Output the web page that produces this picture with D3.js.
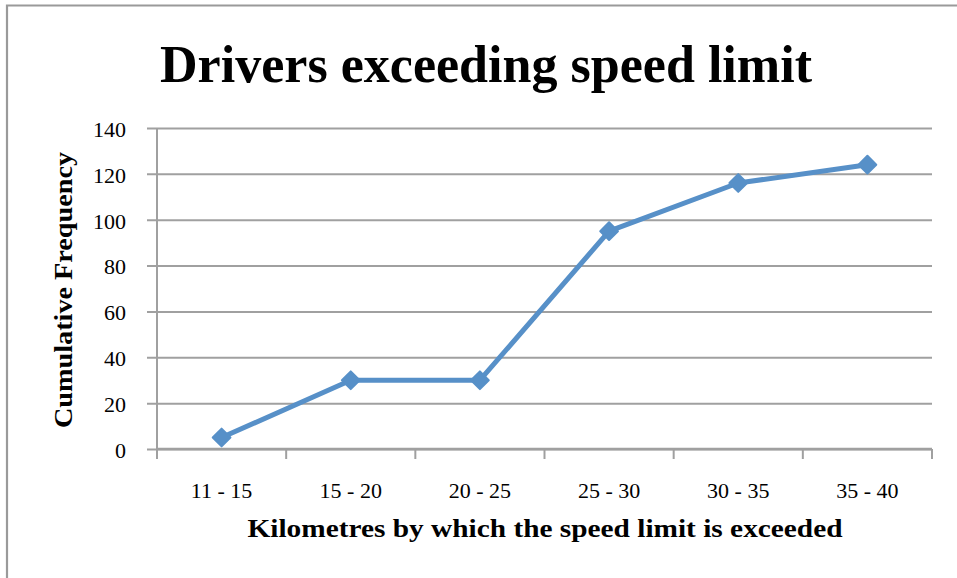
<!DOCTYPE html>
<html>
<head>
<meta charset="utf-8">
<script src="https://cdn.jsdelivr.net/npm/d3@7"></script>
<style>
  html, body { margin: 0; padding: 0; background: #fff; }
  svg { display: block; }
</style>
</head>
<body>
<div id="chart"></div>
<script>
// Cumulative frequency of drivers by how far they exceeded the limit
const categories = ["11 - 15", "15 - 20", "20 - 25", "25 - 30", "30 - 35", "35 - 40"];
const cumulativeFrequency = [5, 30, 30, 95, 116, 124];
const yTicks = [0, 20, 40, 60, 80, 100, 120, 140];

const W = 957, H = 578;
const plot = { left: 157, right: 932, top: 128, bottom: 449 };
const lineColor = "#5790c8";
const gridColor = "#a0a0a0";
const serif = "'Liberation Serif', 'DejaVu Serif', serif";

const svg = d3.select("#chart").append("svg")
  .attr("width", W).attr("height", H);

// outer frame (top and left edges)
svg.append("path")
  .attr("d", `M7,${H} L7,5.5 L${W},5.5`)
  .attr("fill", "none").attr("stroke", "#9a9a9a").attr("stroke-width", 2.2);

const x = d3.scaleBand().domain(categories).range([plot.left, plot.right]).padding(0);
const y = d3.scaleLinear().domain([0, 140]).range([plot.bottom, plot.top]);

// horizontal gridlines, extended left past the axis as tick marks
const yAxis = d3.axisLeft(y).tickValues(yTicks)
  .tickSize(-(plot.right - plot.left)).tickSizeOuter(0)
  .tickFormat(d3.format("d")).tickPadding(31);
const gy = svg.append("g").attr("transform", `translate(${plot.left},0)`).call(yAxis);
gy.select(".domain").remove();
gy.selectAll(".tick line")
  .attr("x1", -10)
  .attr("stroke", gridColor).attr("stroke-width", 2);
gy.selectAll(".tick text")
  .attr("font-family", serif).attr("font-size", 22).attr("fill", "#000")
  .attr("dy", "0.38em");

// vertical axis line
svg.append("line")
  .attr("x1", plot.left).attr("x2", plot.left)
  .attr("y1", plot.top).attr("y2", plot.bottom + 10)
  .attr("stroke", gridColor).attr("stroke-width", 2);

// category axis with boundary tick marks
const gx = svg.append("g").attr("transform", `translate(0,${plot.bottom})`);
gx.append("line")
  .attr("x1", plot.left).attr("x2", plot.right)
  .attr("stroke", gridColor).attr("stroke-width", 2.5);
const bounds = categories.map(c => x(c)).concat([plot.right]);
gx.selectAll("line.bound").data(bounds).join("line").attr("class", "bound")
  .attr("x1", d => d).attr("x2", d => d).attr("y1", 0).attr("y2", 10)
  .attr("stroke", gridColor).attr("stroke-width", 2);
gx.selectAll("text.cat").data(categories).join("text").attr("class", "cat")
  .attr("x", d => x(d) + x.bandwidth() / 2).attr("y", 49)
  .attr("text-anchor", "middle")
  .attr("font-family", serif).attr("font-size", 22).attr("fill", "#000")
  .text(d => d);

// series line
const pts = categories.map((c, i) => [x(c) + x.bandwidth() / 2, y(cumulativeFrequency[i])]);
svg.append("path")
  .attr("d", d3.line()(pts))
  .attr("fill", "none").attr("stroke", lineColor)
  .attr("stroke-width", 5).attr("stroke-linejoin", "round");

// diamond markers
svg.selectAll("path.marker").data(pts).join("path").attr("class", "marker")
  .attr("transform", d => `translate(${d[0]},${d[1]})`)
  .attr("d", d3.symbol().type(d3.symbolDiamond2).size(200))
  .attr("fill", lineColor).attr("stroke", lineColor)
  .attr("stroke-width", 2).attr("stroke-linejoin", "round");

// titles
svg.append("text")
  .attr("x", 486).attr("y", 82)
  .attr("text-anchor", "middle")
  .attr("font-family", serif).attr("font-weight", "bold").attr("font-size", 52)
  .attr("textLength", 652).attr("lengthAdjust", "spacingAndGlyphs")
  .text("Drivers exceeding speed limit");

svg.append("text")
  .attr("x", 545).attr("y", 537)
  .attr("text-anchor", "middle")
  .attr("font-family", serif).attr("font-weight", "bold").attr("font-size", 26)
  .attr("textLength", 595).attr("lengthAdjust", "spacingAndGlyphs")
  .text("Kilometres by which the speed limit is exceeded");

svg.append("text")
  .attr("transform", "translate(72,290) rotate(-90)")
  .attr("text-anchor", "middle")
  .attr("font-family", serif).attr("font-weight", "bold").attr("font-size", 26)
  .attr("textLength", 276).attr("lengthAdjust", "spacingAndGlyphs")
  .text("Cumulative Frequency");
</script>
</body>
</html>
